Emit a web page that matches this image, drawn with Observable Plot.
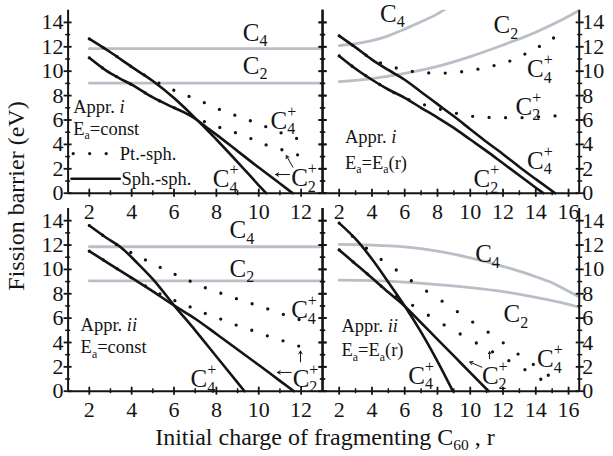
<!DOCTYPE html>
<html><head><meta charset="utf-8">
<script src="https://cdn.jsdelivr.net/npm/d3@7"></script>
<script src="https://cdn.jsdelivr.net/npm/@observablehq/plot@0.6"></script>
<style>
body{margin:0;background:#fff}
#chart{position:relative;width:613px;height:456px;overflow:hidden;font-family:"Liberation Serif",serif}
</style>
</head><body><div id="chart"></div>
<script>
// ---------- tick values ----------
const xTicksL = [2,4,6,8,10,12];
const xMinorL = [3,5,7,9,11];
const xTicksR = [2,4,6,8,10,12,14,16];
const xMinorR = [3,5,7,9,11,13,15];
const yTicks = [0,2,4,6,8,10,12,14];
const yMinor = [1,3,5,7,9,11,13];

// ---------- Appr. i, Ea = const ----------
const iConst_C4gray = [[2,11.85],[13,11.85]];
const iConst_C2gray = [[2,9.03],[13,9.03]];
const iConst_C4sph = [[2,12.65],[3,11.55],[4,10.35],[5,9.2],[6,7.8],[6.5,7.0],[7,6.15],[7.5,5.3],[8,4.4],[9,2.55],[10,0.65],[10.35,0]];
const iConst_C2sph = [[2,11.1],[2.8,10.05],[3.45,9.4],[4,8.9],[5,7.85],[5.75,7.2],[6.5,6.6],[7,6.1],[7.5,5.45],[8,4.8],[9,3.45],[10,2.1],[11,0.8],[11.6,0]];
const iConst_C4pt = [[2,12.65],[3,11.55],[4.23,10.1],[4.98,9.3],[5.73,8.64],[6.51,8.07],[7.2,7.6],[7.99,6.97],[8.7,6.5],[9.48,6.02],[10.19,5.55],[10.98,5.0],[11.69,4.54],[12.48,4.18]];
const iConst_C2pt = [[2,11.1],[2.8,10.05],[3.45,9.4],[4,8.9],[5,7.85],[5.75,7.2],[6.5,6.65],[7.2,6.05],[7.99,5.49],[8.73,5.06],[9.48,4.59],[10.19,4.05],[10.95,3.64],[11.69,3.23],[12.4,2.82]];

// ---------- Appr. i, Ea = Ea(r) ----------
const iVar_C4gray = [[2,12.1],[3,12.25],[4,12.5],[5,12.9],[6,13.45],[7,14.05],[8,14.7],[8.6,15.2]];
const iVar_C2gray = [[2,9.15],[4,9.4],[6,9.82],[8,10.4],[10,11.2],[12,12.15],[14,13.2],[16,14.5],[16.65,15.0]];
const iVar_C4sph = [[2,12.9],[3,11.95],[4,10.95],[5,10.1],[6,9.3],[7,8.3],[8,7.3],[9,6.3],[10,5.25],[11,4.2],[12,3.2],[13,2.15],[14,1.15],[15.18,0]];
const iVar_C2sph = [[2,11.25],[3,10.2],[4,9.3],[5,8.5],[6,7.82],[7,7.0],[8,6.2],[9,5.35],[10,4.4],[11,3.45],[12,2.45],[13,1.45],[14,0.45],[14.46,0]];
const iVar_C4pt = [[2,12.9],[3,11.95],[4,11.0],[5,10.47],[5.91,10.11],[6.89,9.92],[7.85,9.84],[8.77,9.85],[9.77,10.02],[10.79,10.25],[11.7,10.55],[12.65,10.95],[13.67,11.65],[14.69,12.38],[15.6,13.2]];
const iVar_C2pt = [[2,11.25],[3,10.2],[4,9.3],[5,8.5],[5.91,7.85],[6.89,7.38],[7.85,7.0],[8.88,6.64],[9.79,6.37],[10.71,6.23],[11.73,6.2],[12.65,6.18],[13.67,6.22],[14.69,6.29],[15.6,6.37]];

// ---------- Appr. ii, Ea = const ----------
const iiConst_C4gray = [[2,11.86],[13,11.86]];
const iiConst_C2gray = [[2,9.06],[13,9.06]];
const iiConst_C4sph = [[2,13.6],[2.8,12.6],[3.5,11.8],[4.28,10.5],[5,9.2],[6.05,6.95],[7,5.0],[8,2.85],[9,0.7],[9.33,0]];
const iiConst_C2sph = [[2,11.5],[3,10.4],[4,9.3],[5,8.2],[6.05,6.98],[7,5.95],[8,4.7],[9,3.42],[10,2.15],[11,0.85],[11.66,0]];
const iiConst_C4pt = [[2,13.6],[2.8,12.6],[3.5,11.8],[4.27,11.12],[5.02,10.45],[5.78,9.8],[6.51,9.24],[7.22,8.67],[7.99,8.18],[8.72,7.73],[9.47,7.3],[10.2,6.89],[10.97,6.42],[11.72,5.97],[12.43,5.7]];
const iiConst_C2pt = [[2,11.5],[3,10.4],[4,9.3],[5.02,8.28],[5.77,7.62],[6.51,7.12],[7.22,6.55],[7.99,6.07],[8.72,5.56],[9.47,5.13],[10.2,4.66],[10.97,4.24],[11.72,3.8],[12.43,3.42]];

// ---------- Appr. ii, Ea = Ea(r) ----------
const iiVar_C4gray = [[2,12.05],[4,12.0],[6,11.85],[8,11.5],[10,10.95],[12,10.25],[14,9.4],[15,8.9],[16,8.2],[16.65,7.75]];
const iiVar_C2gray = [[2,9.12],[4,9.08],[6,8.95],[8,8.75],[10,8.5],[12,8.17],[14,7.7],[16,7.12],[16.65,6.9]];
const iiVar_C4sph = [[2,13.8],[3,12.5],[4,10.85],[5,8.95],[6,7.0],[7,4.85],[8,2.45],[8.94,0]];
const iiVar_C2sph = [[2,11.6],[3,10.45],[4,9.3],[5,8.12],[6,6.98],[7,5.62],[8,4.25],[9,2.9],[10,1.52],[11.12,0]];
const iiVar_C4pt = [[2,13.8],[3.16,12.3],[3.98,11.4],[4.94,10.46],[5.91,9.55],[6.89,8.6],[7.85,7.78],[8.83,6.88],[9.79,6.0],[10.77,5.13],[11.77,4.22],[12.71,3.25],[13.67,2.37],[14.65,1.42],[15.61,0.46]];
const iiVar_C2pt = [[2,11.6],[3,10.45],[4,9.3],[5,8.15],[5.91,7.45],[6.89,6.75],[7.85,5.86],[8.83,5.13],[9.79,4.38],[10.77,3.67],[11.77,2.93],[12.71,2.25],[13.67,1.5],[14.65,0.7]];

// ---------- annotation texts (label, anchor in data units) ----------
const notesTL = [{t:"C_4",x:9.25,y:12.5},{t:"C_2",x:9.25,y:9.79},{t:"C_4^+",x:10.56,y:5.3},{t:"C_4^+",x:7.83,y:0.49},{t:"C_2^+",x:11.53,y:0.55}];
const textsTL = [{t:"Appr. *i*",x:1.24,y:6.6},{t:"E_a=const",x:1.24,y:4.81},{t:"Pt.-sph.",x:3.44,y:2.76},{t:"Sph.-sph.",x:3.52,y:0.71}];
const arrowsTL = [{x1:11.45,y1:1.53,x2:10.8,y2:1.53},{x1:11.61,y1:2.13,x2:11.3,y2:3.09}];
const legendDots = [[1.24,3.25],[2.82,3.25]];
const legendSolid = [[1.16,1.18],[3.44,1.18]];

const notesTR = [{t:"C_4",x:4.49,y:14.05},{t:"C_2",x:11.42,y:13.1},{t:"C_4^+",x:13.47,y:9.5},{t:"C_2^+",x:12.76,y:6.45},{t:"C_4^+",x:13.47,y:2.0},{t:"C_2^+",x:10.2,y:0.49}];
const textsTR = [{t:"Appr. *i*",x:2.35,y:4.1},{t:"E_a=E_a(r)",x:2.35,y:2.0}];

const notesBL = [{t:"C_4",x:8.62,y:12.54},{t:"C_2",x:8.62,y:9.39},{t:"C_4^+",x:11.53,y:5.97},{t:"C_2^+",x:11.6,y:0.36},{t:"C_4^+",x:6.78,y:0.33}];
const textsBL = [{t:"Appr. *ii*",x:1.59,y:4.98},{t:"E_a=const",x:1.59,y:3.1}];
const arrowsBL = [{x1:11.53,y1:1.54,x2:10.88,y2:1.54},{x1:11.97,y1:2.41,x2:11.97,y2:3.3}];

const notesBR = [{t:"C_4",x:10.3,y:10.6},{t:"C_2",x:12.03,y:5.67},{t:"C_4^+",x:14.08,y:1.97},{t:"C_2^+",x:10.71,y:0.6},{t:"C_4^+",x:6.22,y:0.6}];
const textsBR = [{t:"Appr. *ii*",x:2.14,y:4.82},{t:"E_a=E_a(r)",x:2.14,y:2.85}];
const arrowsBR = [{x1:10.71,y1:1.97,x2:9.97,y2:2.4},{x1:11.18,y1:2.66,x2:11.18,y2:3.25}];

// ---------- layout & style ----------
const W = 613, H = 456;
const gray = "#b9bfc7", ink = "#141414";
const FONT = "'Liberation Serif', 'Times New Roman', serif";

const panels = [
  {box:[67.6,9.7,321.8,192.7], xDomain:[1,13], xt:xTicksL, xm:xMinorL, ySide:"left", dash:16.5,
   gray:[iConst_C4gray,iConst_C2gray], sph:[iConst_C4sph,iConst_C2sph], pt:[iConst_C4pt,iConst_C2pt],
   notes:notesTL, texts:textsTL, arrows:arrowsTL, legend:true},
  {box:[322.3,9.7,578.7,192.7], xDomain:[1,16.65], xt:xTicksR, xm:xMinorR, ySide:"right", dash:16.5,
   gray:[iVar_C4gray,iVar_C2gray], sph:[iVar_C4sph,iVar_C2sph], pt:[iVar_C4pt,iVar_C2pt],
   notes:notesTR, texts:textsTR, arrows:[], legend:false},
  {box:[67.6,208,321.8,390.7], xDomain:[1,13], xt:xTicksL, xm:xMinorL, ySide:"left", dash:16.5,
   gray:[iiConst_C4gray,iiConst_C2gray], sph:[iiConst_C4sph,iiConst_C2sph], pt:[iiConst_C4pt,iiConst_C2pt],
   notes:notesBL, texts:textsBL, arrows:arrowsBL, legend:false},
  {box:[322.3,208,578.7,390.7], xDomain:[1,16.65], xt:xTicksR, xm:xMinorR, ySide:"right", dash:18.5,
   gray:[iiVar_C4gray,iiVar_C2gray], sph:[iiVar_C4sph,iiVar_C2sph], pt:[iiVar_C4pt,iiVar_C2pt],
   notes:notesBR, texts:textsBR, arrows:arrowsBR, legend:false}
];

const xy = {x: d => d[0], y: d => d[1]};
const blank = () => "";

function panel(p) {
  const [l, t, r, b] = p.box;
  const marks = [];
  for (const g of p.gray) marks.push(Plot.line(g, {...xy, stroke: gray, strokeWidth: 2.8, curve: "monotone-x", clip: true}));
  for (const s of p.sph) marks.push(Plot.line(s, {...xy, stroke: ink, strokeWidth: 2.6, curve: "monotone-x"}));
  for (const s of p.pt) marks.push(Plot.line(s, {...xy, stroke: ink, strokeWidth: 3.3, strokeLinecap: "round", strokeDasharray: `0 ${p.dash}`, curve: "monotone-x"}));
  if (p.legend) {
    marks.push(Plot.line(legendDots, {...xy, stroke: ink, strokeWidth: 3.3, strokeLinecap: "round", strokeDasharray: `0 ${p.dash}`}));
    marks.push(Plot.line(legendSolid, {...xy, stroke: ink, strokeWidth: 2.6}));
  }
  // frame lines
  marks.push(Plot.ruleX(p.xDomain, {stroke: ink, strokeWidth: 2}));
  marks.push(Plot.ruleY([0], {stroke: ink, strokeWidth: 2}));
  // crossing ticks
  for (const anchor of ["left", "right"]) {
    const s = anchor === "left" ? 1 : -1;
    marks.push(Plot.axisY({anchor, ticks: yTicks, tickSize: 8, dx: 4 * s, tickFormat: blank, stroke: ink, strokeWidth: 1.8, label: null}));
    marks.push(Plot.axisY({anchor, ticks: yMinor, tickSize: 5, dx: 2.5 * s, tickFormat: blank, stroke: ink, strokeWidth: 1.5, label: null}));
  }
  marks.push(Plot.axisX({anchor: "bottom", ticks: p.xt, tickSize: 8, dy: -4, tickFormat: blank, stroke: ink, strokeWidth: 1.8, label: null}));
  marks.push(Plot.axisX({anchor: "bottom", ticks: p.xm, tickSize: 5, dy: -2.5, tickFormat: blank, stroke: ink, strokeWidth: 1.5, label: null}));
  // tick labels
  marks.push(Plot.axisX({anchor: "bottom", ticks: p.xt, tickSize: 0, tickPadding: 10, fontSize: 22, fill: ink, label: null}));
  marks.push(Plot.axisY({anchor: p.ySide, ticks: yTicks, tickSize: 0, tickPadding: p.ySide === "left" ? 4.5 : 3, fontSize: 22, fill: ink, label: null}));
  // annotations
  marks.push(Plot.text(p.notes, {x: "x", y: "y", text: "t", textAnchor: "start", lineAnchor: "bottom", fontSize: 25, fill: ink}));
  marks.push(Plot.text(p.texts, {x: "x", y: "y", text: "t", textAnchor: "start", lineAnchor: "bottom", fontSize: 18.5, fill: ink}));
  if (p.arrows.length) marks.push(Plot.arrow(p.arrows, {x1: "x1", y1: "y1", x2: "x2", y2: "y2", stroke: ink, strokeWidth: 1, headLength: 5}));

  return Plot.plot({
    width: W, height: H,
    marginLeft: l, marginRight: W - r, marginTop: t, marginBottom: H - b,
    x: {domain: p.xDomain, axis: null},
    y: {domain: [0, 15], axis: null},
    style: `position:absolute;left:0;top:0;background:transparent;overflow:visible;font-family:${FONT};font-size:22px;max-width:none;`,
    marks
  });
}

// rich text: _x subscript, ^x superscript (stacked after subscript), *x* italic
function richify(root) {
  root.querySelectorAll("text").forEach(el => {
    const s = el.textContent;
    if (!/[_^*]/.test(s)) return;
    const fs = parseFloat(getComputedStyle(el).fontSize);
    const sfs = fs * 0.64;
    while (el.firstChild) el.removeChild(el.firstChild);
    const re = /_\{[^}]*\}|_[^_^*]|\^\{[^}]*\}|\^[^_^*]|\*[^*]*\*|[^_^*]+/g;
    let off = 0, lastSub = null;
    for (const tok of s.match(re)) {
      const ts = document.createElementNS("http://www.w3.org/2000/svg", "tspan");
      el.appendChild(ts);
      if (tok[0] === "_" || tok[0] === "^") {
        ts.textContent = tok[1] === "{" ? tok.slice(2, -1) : tok.slice(1);
        ts.setAttribute("font-size", sfs);
        const target = tok[0] === "_" ? 0.22 * fs : -0.48 * fs;
        ts.setAttribute("dy", target - off);
        off = target;
        if (tok[0] === "^" && lastSub) ts.setAttribute("dx", -lastSub.getComputedTextLength());
        lastSub = tok[0] === "_" ? ts : null;
      } else {
        const italic = tok[0] === "*";
        ts.textContent = italic ? tok.slice(1, -1) : tok;
        if (italic) ts.setAttribute("font-style", "italic");
        if (off) ts.setAttribute("dy", -off);
        off = 0; lastSub = null;
      }
    }
  });
}

const chart = document.getElementById("chart");
for (const p of panels) {
  const svg = panel(p);
  chart.appendChild(svg);
  richify(svg);
}

// axis titles
const ov = d3.select(chart).append("svg")
  .attr("width", W).attr("height", H)
  .style("position", "absolute").style("left", 0).style("top", 0)
  .attr("font-family", FONT).attr("fill", ink);
ov.append("text").attr("transform", "translate(24,196) rotate(-90)")
  .attr("text-anchor", "middle").attr("font-size", 24).text("Fission barrier (eV)");
const xt = ov.append("text").attr("x", 325).attr("y", 444.5).attr("text-anchor", "middle").attr("font-size", 24);
xt.append("tspan").text("Initial charge of fragmenting C");
xt.append("tspan").attr("font-size", 15.5).attr("dy", 5.5).text("60");
xt.append("tspan").attr("dy", -5.5).text(" , r");
</script></body></html>
